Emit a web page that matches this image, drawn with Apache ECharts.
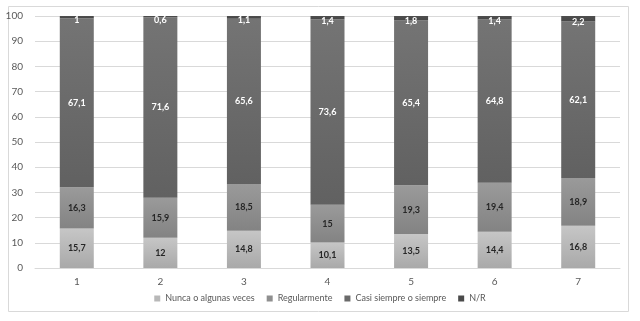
<!DOCTYPE html>
<html><head><meta charset="utf-8">
<script src="https://cdn.jsdelivr.net/npm/echarts@6/dist/echarts.min.js"></script>
<style>html,body{margin:0;padding:0;background:#fff}#c{width:640px;height:321px}</style>
</head><body><div id="c"></div>
<script>
const categories = ['1','2','3','4','5','6','7'];
const nunca = [15.7, 12, 14.8, 10.1, 13.5, 14.4, 16.8];
const regular = [16.3, 15.9, 18.5, 15, 19.3, 19.4, 18.9];
const casi = [67.1, 71.6, 65.6, 73.6, 65.4, 64.8, 62.1];
const nr = [1, 0.6, 1.1, 1.4, 1.8, 1.4, 2.2];
const seriesNames = ['Nunca o algunas veces', 'Regularmente', 'Casi siempre o siempre', 'N/R'];
const yTicks = [0,10,20,30,40,50,60,70,80,90,100];

const font = 'Lato, "Open Sans", sans-serif';
function grad(top, bottom){
  return new echarts.graphic.LinearGradient(0,0,0,1,[{offset:0,color:top},{offset:1,color:bottom}]);
}
const fills = [grad('#c6c6c6','#a9a9a9'), grad('#9a9a9a','#838383'), grad('#747474','#616161'), grad('#4e4e4e','#474747')];
const legendColors = ['#b8b8b8','#8f8f8f','#6a6a6a','#4a4a4a'];
const labelColors = ['#262626','#262626','#ffffff','#ffffff'];
const labelOffsets = [[0,0],[0,0],[0,0],[0,3]];
const datas = [nunca, regular, casi, nr];

const chart = echarts.init(document.getElementById('c'), null, {renderer:'canvas'});
chart.setOption({
  animation: false,
  backgroundColor: '#fff',
  color: legendColors,
  grid: {left: 35, right: 20, top: 16, bottom: 53, containLabel: false},
  legend: {
    bottom: 13, left: 'center', itemWidth: 6, itemHeight: 6, itemGap: 12,
    icon: 'rect',
    textStyle: {fontFamily: font, fontSize: 9, color: '#595959'},
    data: seriesNames.map((n,i)=>({name:n, itemStyle:{color:legendColors[i]}}))
  },
  xAxis: {
    type: 'category', data: categories,
    axisLine: {lineStyle: {color: '#d9d9d9'}},
    axisTick: {show: false},
    axisLabel: {fontFamily: font, fontSize: 10, color: '#595959', margin: 9}
  },
  yAxis: {
    type: 'value', min: 0, max: 100, interval: 10,
    axisLine: {show: false}, axisTick: {show: false},
    splitLine: {lineStyle: {color: '#d9d9d9'}},
    axisLabel: {fontFamily: font, fontSize: 10, color: '#595959', margin: 12,
      formatter: v => yTicks.includes(v) ? String(v) : ''}
  },
  graphic: [{type:'rect', shape:{x:8.5,y:6.5,width:620,height:305}, style:{fill:'none', stroke:'#d9d9d9', lineWidth:1}, silent:true}],
  series: seriesNames.map((n,i)=>({
    name: n, type: 'bar', stack: 'total', barWidth: 34,
    data: datas[i],
    itemStyle: {color: fills[i]},
    label: {show: true, position: 'inside', offset: labelOffsets[i], fontFamily: font, fontSize: 9, fontWeight: 'bold',
      color: labelColors[i], formatter: p => String(p.value).replace('.', ',')}
  }))
});
</script></body></html>
